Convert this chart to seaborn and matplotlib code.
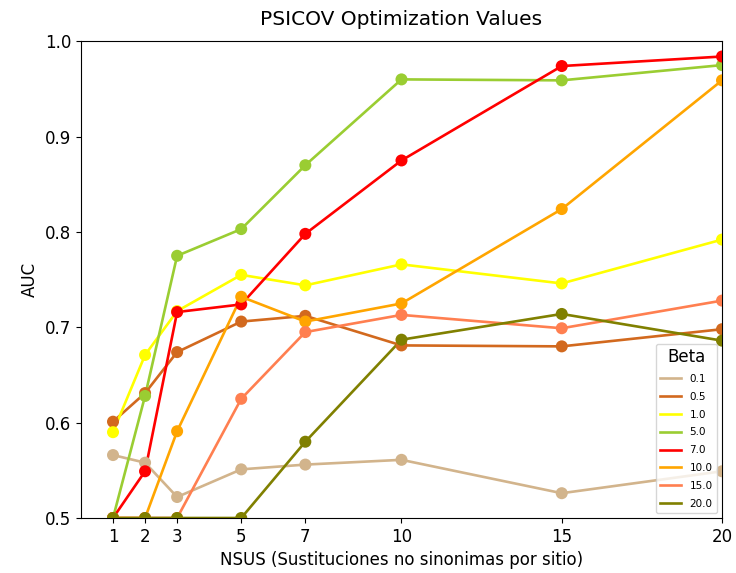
import pandas as pd
import seaborn as sns
import matplotlib
matplotlib.use("Agg")
import matplotlib.pyplot as plt

nsus = [1, 2, 3, 5, 7, 10, 15, 20]
betas = ["0.1", "0.5", "1.0", "5.0", "7.0", "10.0", "15.0", "20.0"]
colors = ["tan", "chocolate", "yellow", "yellowgreen", "red", "orange", "coral", "olive"]

auc_01 = [0.566, 0.558, 0.522, 0.551, 0.556, 0.561, 0.526, 0.549]
auc_05 = [0.601, 0.631, 0.674, 0.706, 0.712, 0.681, 0.680, 0.698]
auc_10 = [0.590, 0.671, 0.717, 0.755, 0.744, 0.766, 0.746, 0.792]
auc_50 = [0.500, 0.628, 0.775, 0.803, 0.870, 0.960, 0.959, 0.975]
auc_70 = [0.500, 0.549, 0.716, 0.724, 0.798, 0.875, 0.974, 0.984]
auc_100 = [0.500, 0.500, 0.591, 0.732, 0.706, 0.725, 0.824, 0.959]
auc_150 = [0.500, 0.500, 0.500, 0.625, 0.695, 0.713, 0.699, 0.728]
auc_200 = [0.500, 0.500, 0.500, 0.500, 0.580, 0.687, 0.714, 0.686]

series = [auc_01, auc_05, auc_10, auc_50, auc_70, auc_100, auc_150, auc_200]
rows = []
for b, vals in zip(betas, series):
    for x, v in zip(nsus, vals):
        rows.append({"NSUS": x, "AUC": v, "Beta": b})
df = pd.DataFrame(rows)
palette = dict(zip(betas, colors))

fig, ax = plt.subplots(figsize=(7.36, 5.73), dpi=100)
sns.lineplot(data=df, x="NSUS", y="AUC", hue="Beta", hue_order=betas,
             palette=palette, linewidth=1.9, ax=ax)
sns.scatterplot(data=df, x="NSUS", y="AUC", hue="Beta", hue_order=betas,
                palette=palette, s=75, edgecolor=None, linewidth=0,
                legend=False, ax=ax, zorder=3)

ax.set_xlim(0, 20)
ax.set_ylim(0.5, 1.0)
ax.set_xticks(nsus)
ax.tick_params(labelsize=12)
ax.set_title("PSICOV Optimization Values", fontsize=14.5, pad=12)
ax.set_xlabel("NSUS (Sustituciones no sinonimas por sitio)", fontsize=12)
ax.set_ylabel("AUC", fontsize=12)
ax.legend(title="Beta", loc="lower right", fontsize=7.5, title_fontsize=12,
          labelspacing=0.75)

plt.subplots_adjust(left=0.11, right=0.981, top=0.928, bottom=0.096)
fig.savefig("out.png", dpi=100)
